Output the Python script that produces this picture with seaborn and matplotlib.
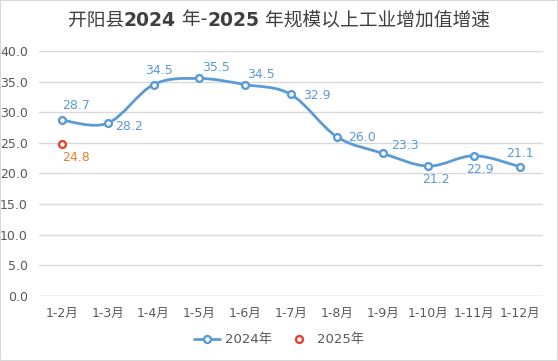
import numpy as np
import pandas as pd
import matplotlib
matplotlib.use("Agg")
import matplotlib.pyplot as plt
from matplotlib.path import Path
from matplotlib.patches import PathPatch
from matplotlib.lines import Line2D
import seaborn as sns

# données
months = ["1-2月", "1-3月", "1-4月", "1-5月", "1-6月", "1-7月",
          "1-8月", "1-9月", "1-10月", "1-11月", "1-12月"]
growth_2024 = [28.7, 28.2, 34.5, 35.5, 34.5, 32.9, 26.0, 23.3, 21.2, 22.9, 21.1]
growth_2025 = [24.8]
yticks = [0, 5, 10, 15, 20, 25, 30, 35, 40]

# décalage des étiquettes (pixels)
label_off_2024 = [(14, 15), (21, -3), (5, 14), (17, 11), (16, 10), (26, -1),
                  (25, -1), (22, 8), (8, -13), (6, -14), (0, 13)]
label_off_2025 = [(14, -13)]

BLUE = "#5B9BD5"
ORANGE = "#ED7D31"
RED = "#E8412C"
GRID = "#D9D9D9"
TXT = "#595959"

sns.set_theme(style="white")
plt.rcParams["font.family"] = ["DejaVu Sans", "Noto Sans CJK SC"]

fig = plt.figure(figsize=(5.58, 3.61), dpi=100)
ax = fig.add_axes([0.0699, 0.180, 0.903, 0.679])

df = pd.DataFrame({"month": months, "v": growth_2024})
x = np.arange(len(months))

# courbe lissée (Catmull-Rom -> Bézier), à partir des valeurs
pts = np.column_stack([x, df["v"].to_numpy()])
verts = [tuple(pts[0])]
codes = [Path.MOVETO]
for i in range(len(pts) - 1):
    p0 = pts[i - 1] if i > 0 else pts[i]
    p1, p2 = pts[i], pts[i + 1]
    p3 = pts[i + 2] if i + 2 < len(pts) else pts[i + 1]
    c1 = p1 + (p2 - p0) / 6.0
    c2 = p2 - (p3 - p1) / 6.0
    verts += [tuple(c1), tuple(c2), tuple(p2)]
    codes += [Path.CURVE4] * 3
ax.add_patch(PathPatch(Path(verts, codes), fill=False, edgecolor=BLUE, lw=2.0, zorder=3))

sns.scatterplot(data=df, x="month", y="v", ax=ax, marker="o", s=24,
                facecolor="white", edgecolor=BLUE, linewidth=1.7, zorder=4, legend=False)
sns.scatterplot(x=months[:len(growth_2025)], y=growth_2025, ax=ax, marker="o", s=24,
                facecolor="white", edgecolor=RED, linewidth=1.7, zorder=5, legend=False)

for i, v in enumerate(growth_2024):
    dx, dy = label_off_2024[i]
    ax.annotate(f"{v:.1f}", (i, v), xytext=(dx, dy), textcoords="offset pixels",
                ha="center", va="center", color=BLUE, fontsize=9)
for i, v in enumerate(growth_2025):
    dx, dy = label_off_2025[i]
    ax.annotate(f"{v:.1f}", (i, v), xytext=(dx, dy), textcoords="offset pixels",
                ha="center", va="center", color=ORANGE, fontsize=9)

ax.set_xlim(-0.5, len(months) - 0.5)
ax.set_ylim(0, 40)
ax.set_yticks(yticks)
ax.set_yticklabels([f"{t:.1f}" for t in yticks])
ax.set_xticks(x)
ax.set_xticklabels(months)
ax.yaxis.grid(True, color=GRID, lw=1)
ax.tick_params(axis="both", length=0, labelsize=9, labelcolor=TXT, pad=8)
for s in ax.spines.values():
    s.set_visible(False)
ax.axhline(0, color=GRID, lw=1, zorder=1)
ax.set_xlabel("")
ax.set_ylabel("")

# titre : morceaux normal / gras
parts = [("开阳县", "normal"), ("2024", "bold"), (" 年-", "normal"), ("2025", "bold"),
         (" 年规模以上工业增加值增速", "normal")]
renderer = fig.canvas.get_renderer()
texts = []
for s, w in parts:
    t = fig.text(0, 0, s, fontsize=13.5, fontweight=w, color="#404040", va="center",
                 family=["DejaVu Sans", "Noto Sans CJK SC"])
    texts.append(t)
widths = [t.get_window_extent(renderer).width for t in texts]
total = sum(widths)
xpix = 279 - total / 2
for t, w in zip(texts, widths):
    t.set_position((xpix / 558, 1 - 20 / 361))
    xpix += w

handles = [
    Line2D([], [], color=BLUE, lw=2.0, marker="o", ms=5, mfc="white", mec=BLUE, mew=1.7),
    Line2D([], [], color="none", marker="o", ms=5, mfc="white", mec=RED, mew=1.7),
]
fig.legend(handles, ["2024年", "2025年"], loc="center", bbox_to_anchor=(0.5, 1 - 340 / 361),
           ncol=2, frameon=False, fontsize=9.5, labelcolor=TXT, columnspacing=1.0,
           handlelength=2.0, handletextpad=0.4)

fig.patches.append(plt.Rectangle((0, 0), 1, 1, transform=fig.transFigure, fill=False,
                                 edgecolor="#D9D9D9", lw=1.5))
fig.savefig("out.png", dpi=100)
